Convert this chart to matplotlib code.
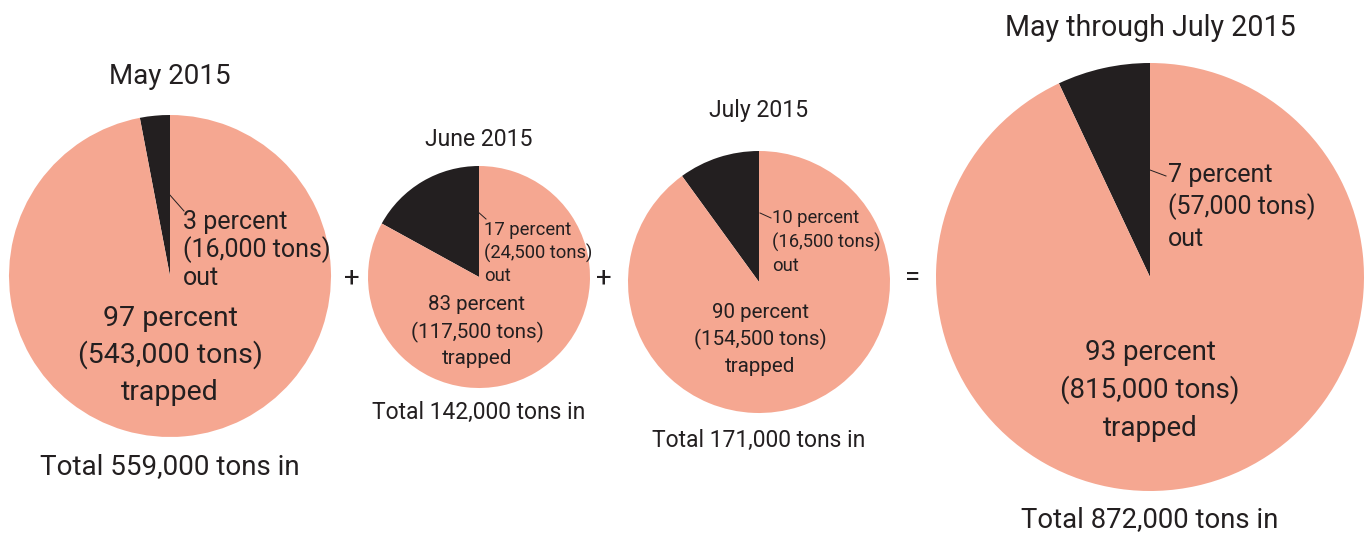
import matplotlib
matplotlib.use("Agg")
from matplotlib import pyplot as plt

# data
titles = ["May 2015", "June 2015", "July 2015", "May through July 2015"]
pct_out = [3, 17, 10, 7]
pct_trapped = [97, 83, 90, 93]
tons_out = ["16,000", "24,500", "16,500", "57,000"]
tons_trapped = ["543,000", "117,500", "154,500", "815,000"]
tons_in = ["559,000", "142,000", "171,000", "872,000"]
operators = ["+", "+", "="]

# layout in pixels (x, y from top-left)
centers = [(170, 276), (479, 277), (759, 282), (1150, 277)]
radii = [161, 111, 131, 214]
title_y = [77, 139, 111, 28]
total_y = [467, 412, 440, 520]
title_font = [20, 16.6, 16.6, 20.6]
total_font = [20, 16.5, 16.5, 19.8]
in_font = [20.5, 14.8, 14.8, 20]
out_font = [18, 13.2, 13.2, 18]
out_xy = [(183, 222), (484, 230), (772, 218), (1168, 175)]
out_step = [28, 23, 24, 32]
in_xy = [(170, 318), (477, 305), (760, 312), (1150, 352)]
in_step = [37, 27, 27, 38]
lead_from = [(169, 194), (477, 211), (760, 213), (1150, 170)]
lead_to = [(184, 211), (486, 219), (771, 218), (1166, 176)]
op_x = [352, 604, 913]

dark = "#231f20"
salmon = "#f5a791"
plt.rcParams["font.family"] = ["Roboto", "DejaVu Sans"]

fig = plt.figure(figsize=(13.69, 5.36), dpi=100)
ax = fig.add_axes([0, 0, 1, 1])

for i in range(len(titles)):
    cx, cy = centers[i]
    ax.pie([pct_out[i], pct_trapped[i]], colors=[dark, salmon], startangle=90,
           counterclock=True, radius=radii[i], center=(cx, -cy), frame=False)
    ax.text(cx, -title_y[i], titles[i], ha="center", va="center", fontsize=title_font[i], color=dark)
    ax.text(cx, -total_y[i], "Total " + tons_in[i] + " tons in", ha="center", va="center",
            fontsize=total_font[i], color=dark)
    ox, oy = out_xy[i]
    out_lines = [str(pct_out[i]) + " percent", "(" + tons_out[i] + " tons)", "out"]
    for k, s in enumerate(out_lines):
        ax.text(ox, -(oy + k * out_step[i]), s, ha="left", va="center", fontsize=out_font[i], color=dark)
    ix, iy = in_xy[i]
    in_lines = [str(pct_trapped[i]) + " percent", "(" + tons_trapped[i] + " tons)", "trapped"]
    for k, s in enumerate(in_lines):
        ax.text(ix, -(iy + k * in_step[i]), s, ha="center", va="center", fontsize=in_font[i], color=dark)
    # little leader line from the dark slice to its label
    ax.plot([lead_from[i][0], lead_to[i][0]], [-lead_from[i][1], -lead_to[i][1]], color=dark, lw=0.7)

for j, op in enumerate(operators):
    ax.text(op_x[j], -278, op, ha="center", va="center", fontsize=20, color=dark)

ax.set_xlim(0, 1369)
ax.set_ylim(-536, 0)
ax.set_aspect("equal")
ax.axis("off")
fig.savefig("out.png", dpi=100)
